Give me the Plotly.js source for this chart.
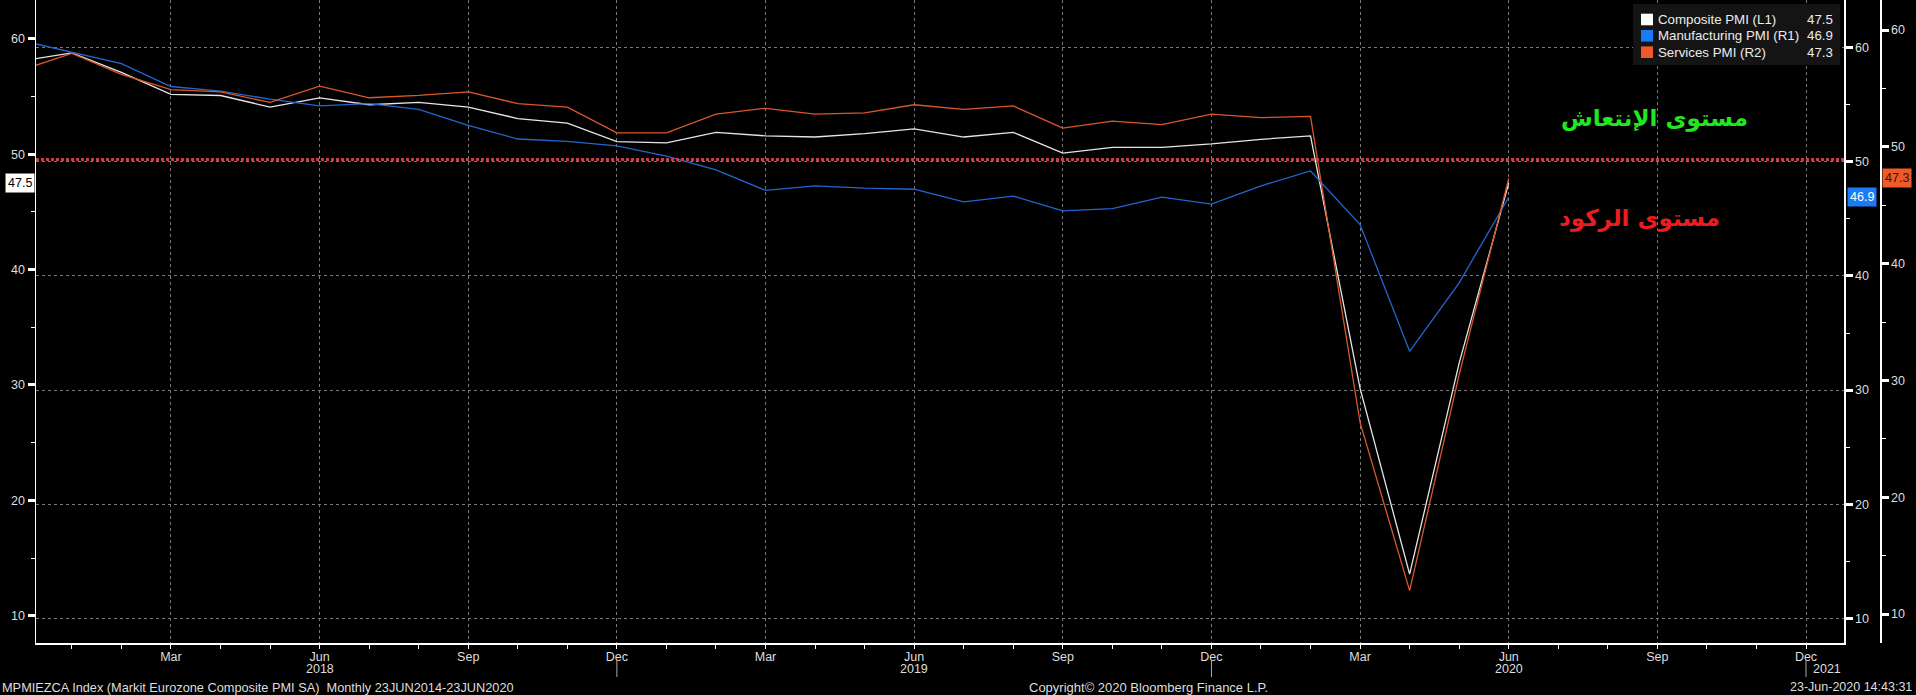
<!DOCTYPE html>
<html>
<head>
<meta charset="utf-8">
<script src="https://cdn.plot.ly/plotly-3.0.1.min.js"></script>
<style>html,body{margin:0;padding:0;background:#000;}#chart{width:1916px;height:695px;}</style>
</head>
<body>
<div id="chart"></div>
<script>
// ---- data ----
const months = ['Dec 2017','Jan 2018','Feb 2018','Mar 2018','Apr 2018','May 2018','Jun 2018','Jul 2018','Aug 2018','Sep 2018','Oct 2018','Nov 2018','Dec 2018',
  'Jan 2019','Feb 2019','Mar 2019','Apr 2019','May 2019','Jun 2019','Jul 2019','Aug 2019','Sep 2019','Oct 2019','Nov 2019','Dec 2019',
  'Jan 2020','Feb 2020','Mar 2020','Apr 2020','May 2020','Jun 2020'];
const axisMonths = months.concat(['Jul 2020','Aug 2020','Sep 2020','Oct 2020','Nov 2020','Dec 2020']);
const composite = [58.1,58.8,57.1,55.2,55.1,54.1,54.9,54.3,54.5,54.1,53.1,52.7,51.1,51.0,51.9,51.6,51.5,51.8,52.2,51.5,51.9,50.1,50.6,50.6,50.9,51.3,51.6,29.7,13.6,31.9,47.5];
const manufacturing = [60.6,59.6,58.6,56.6,56.2,55.5,54.9,55.1,54.6,53.2,52.0,51.8,51.4,50.5,49.3,47.5,47.9,47.7,47.6,46.5,47.0,45.7,45.9,46.9,46.3,47.9,49.2,44.5,33.4,39.4,46.9];
const services = [56.6,58.0,56.2,54.9,54.7,53.8,55.2,54.2,54.4,54.7,53.7,53.4,51.2,51.2,52.8,53.3,52.8,52.9,53.6,53.2,53.5,51.6,52.2,51.9,52.8,52.5,52.6,26.4,12.0,30.5,47.3];
const seriesNames = ['Composite PMI (L1)','Manufacturing PMI (R1)','Services PMI (R2)'];
const lastValues = ['47.5','46.9','47.3'];
const labelledMonths = ['Mar','Jun','Sep','Dec'];
const yearLabels = ['2018','2019','2020','2021'];
const yTicks = [10,20,30,40,50,60];
const threshold = 50;
const arabicUp = 'مستوى الإنتعاش';
const arabicDown = 'مستوى الركود';
const footLeft = 'MPMIEZCA Index (Markit Eurozone Composite PMI SA)  Monthly 23JUN2014-23JUN2020';
const footMid = 'Copyright© 2020 Bloomberg Finance L.P.';
const footRight = '23-Jun-2020 14:43:31';

// ---- geometry helpers ----
const W = 1916, H = 695, ML = 36, MR = 36, MT = 0, MB = 52;
const PW = W - ML - MR, PH = H - MT - MB;
const px = v => (v - ML) / PW;          // pixel x -> paper x
const py = v => 1 - (v - MT) / PH;      // pixel y -> paper y
const idx = m => axisMonths.indexOf(m);
const xs = months.map(idx);

const tickIdx = [], tickTxt = [];
axisMonths.forEach((m, i) => {
  const name = m.split(' ')[0];
  if (labelledMonths.includes(name)) { tickIdx.push(i); tickTxt.push(name); }
});

const FONT = 'Liberation Sans, Arial, sans-serif';
const TXT = '#dedede';
const GRID = '#7a7a7a';
const colors = ['#e6e6e6', '#2366d1', '#d9582a'];
const legendColors = ['#ffffff', '#1a7cf5', '#f05a28'];

const traces = [
  {x: xs, y: composite, yaxis: 'y', type: 'scatter', mode: 'lines', line: {color: colors[0], width: 1.3}, name: seriesNames[0], hoverinfo: 'skip'},
  {x: xs, y: manufacturing, yaxis: 'y2', type: 'scatter', mode: 'lines', line: {color: colors[1], width: 1.3}, name: seriesNames[1], hoverinfo: 'skip'},
  {x: xs, y: services, yaxis: 'y3', type: 'scatter', mode: 'lines', line: {color: colors[2], width: 1.3}, name: seriesNames[2], hoverinfo: 'skip'}
];

const yCommon = {
  tickmode: 'array', tickvals: yTicks, ticktext: yTicks.map(String),
  ticks: 'outside', ticklen: 7, tickwidth: 3, tickcolor: '#ffffff',
  showline: true, linecolor: '#ffffff', linewidth: 1.5,
  zeroline: false, tickfont: {family: FONT, size: 12.5, color: TXT},
  minor: {tickmode: 'linear', tick0: 5, dtick: 10, ticks: 'outside', ticklen: 4, tickwidth: 1, tickcolor: '#ffffff', showgrid: false},
  fixedrange: true
};

const shapes = [];
const annotations = [];

// threshold line
shapes.push({type: 'line', xref: 'x domain', x0: 0, x1: 1, yref: 'y2', y0: threshold + 0.2, y1: threshold + 0.2,
  line: {color: '#cc3b4a', width: 3, dash: '3px,2px'}});

// year separators & labels
[12, 24, 36].forEach(i => shapes.push({type: 'line', xref: 'x', x0: i, x1: i, yref: 'paper', y0: py(660), y1: py(677), line: {color: '#aaaaaa', width: 1}}));
const yearPos = [idx('Jun 2018'), idx('Jun 2019'), idx('Jun 2020'), idx('Dec 2020') + 0.43];
yearLabels.forEach((t, i) => annotations.push({text: t, xref: 'x', x: yearPos[i], yref: 'paper', y: py(669), yanchor: 'middle', xanchor: 'center', showarrow: false, font: {family: FONT, size: 12.5, color: TXT}}));

// legend box
shapes.push({type: 'rect', xref: 'paper', yref: 'paper', x0: px(1633), x1: px(1840), y0: py(65), y1: py(4), fillcolor: '#141414', line: {width: 0}, layer: 'above'});
const rowY = [19.5, 35.8, 52.2];
seriesNames.forEach((n, i) => {
  shapes.push({type: 'rect', xref: 'paper', yref: 'paper', x0: px(1641), x1: px(1653), y0: py(rowY[i] + 5.8), y1: py(rowY[i] - 5.8), fillcolor: legendColors[i], line: {width: 0}, layer: 'above'});
  annotations.push({text: n, xref: 'paper', x: px(1656), xanchor: 'left', yref: 'paper', y: py(rowY[i]), yanchor: 'middle', showarrow: false, font: {family: FONT, size: 13.3, color: '#ececec'}});
  annotations.push({text: lastValues[i], xref: 'paper', x: px(1835), xanchor: 'right', yref: 'paper', y: py(rowY[i]), yanchor: 'middle', showarrow: false, font: {family: FONT, size: 13.3, color: '#ececec'}});
});

// last value tags
annotations.push({text: lastValues[0], xref: 'paper', x: 0, xanchor: 'right', xshift: -1, yref: 'y', y: composite[composite.length - 1], yanchor: 'middle', showarrow: false, bgcolor: '#ffffff', borderpad: 2, font: {family: FONT, size: 12.5, color: '#000000'}});
annotations.push({text: lastValues[1], xref: 'paper', x: px(1844), xanchor: 'left', xshift: 3, yref: 'y2', y: manufacturing[manufacturing.length - 1], yanchor: 'middle', showarrow: false, bgcolor: '#1a7cf5', borderpad: 2, font: {family: FONT, size: 12.5, color: '#ffffff'}});
annotations.push({text: lastValues[2], xref: 'paper', x: 1, xanchor: 'left', xshift: 2, yref: 'y3', y: services[services.length - 1], yanchor: 'middle', showarrow: false, bgcolor: '#f05a28', borderpad: 2, font: {family: FONT, size: 12.5, color: '#3a1000'}});

// Arabic notes
annotations.push({text: '<b>' + arabicUp + '</b>', xref: 'paper', x: px(1654), xanchor: 'center', yref: 'paper', y: py(118), yanchor: 'middle', showarrow: false, font: {family: 'DejaVu Sans, Noto Sans, sans-serif', size: 23, color: '#1fe81f'}});
annotations.push({text: '<b>' + arabicDown + '</b>', xref: 'paper', x: px(1639), xanchor: 'center', yref: 'paper', y: py(218), yanchor: 'middle', showarrow: false, font: {family: 'DejaVu Sans, Noto Sans, sans-serif', size: 23, color: '#ee1c1c'}});

// footer
annotations.push({text: footLeft, xref: 'paper', x: px(0), xanchor: 'left', yref: 'paper', y: py(687), yanchor: 'middle', showarrow: false, font: {family: FONT, size: 12.75, color: TXT}});
annotations.push({text: footMid, xref: 'paper', x: px(1148), xanchor: 'center', yref: 'paper', y: py(687), yanchor: 'middle', showarrow: false, font: {family: FONT, size: 13, color: TXT}});
annotations.push({text: footRight, xref: 'paper', x: px(1914), xanchor: 'right', yref: 'paper', y: py(687), yanchor: 'middle', showarrow: false, font: {family: FONT, size: 12.5, color: TXT}});

const layout = {
  width: W, height: H,
  margin: {l: ML, r: MR, t: MT, b: MB, pad: 0},
  paper_bgcolor: '#000000', plot_bgcolor: '#000000',
  showlegend: false,
  xaxis: {
    domain: [0, px(1844)], range: [0.276, 36.767],
    tickmode: 'array', tickvals: tickIdx, ticktext: tickTxt,
    ticks: 'outside', ticklen: 1, tickcolor: 'rgba(0,0,0,0)',
    showline: true, linecolor: '#ffffff', linewidth: 1.5,
    showgrid: true, gridcolor: GRID, gridwidth: 1, griddash: '3px,3px',
    zeroline: false, tickfont: {family: FONT, size: 12.5, color: TXT},
    minor: {tickmode: 'linear', tick0: 0, dtick: 1, ticks: 'outside', ticklen: 4, tickwidth: 1, tickcolor: '#ffffff', showgrid: false},
    fixedrange: true
  },
  yaxis: Object.assign({}, yCommon, {side: 'left', range: [7.63, 63.38], showgrid: false, anchor: 'x'}),
  yaxis2: Object.assign({}, yCommon, {side: 'right', overlaying: 'y', anchor: 'x', range: [7.84, 64.18],
    showgrid: true, gridcolor: GRID, gridwidth: 1, griddash: '3px,3px'}),
  yaxis3: Object.assign({}, yCommon, {side: 'right', overlaying: 'y', anchor: 'free', position: 1, range: [7.52, 62.57], showgrid: false}),
  shapes: shapes,
  annotations: annotations
};

Plotly.newPlot('chart', traces, layout, {staticPlot: true, displayModeBar: false});
</script>
</body>
</html>
